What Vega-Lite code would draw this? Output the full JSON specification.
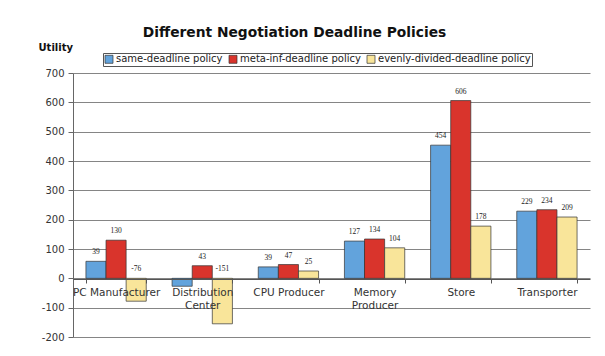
{
  "$schema": "https://vega.github.io/schema/vega-lite/v6.json",
  "autosize": "none",
  "width": 517,
  "height": 264,
  "padding": {"left": 73, "top": 73, "right": 15, "bottom": 19},
  "background": "white",
  "config": {"view": {"stroke": null}, "font": "DejaVu Sans"},
  "title": {"text": "Different Negotiation Deadline Policies", "fontSize": 13.8, "font": "DejaVu Sans", "fontWeight": "bold", "color": "#111", "anchor": "middle", "dx": -37, "dy": 7, "offset": 9},
  "data": {"values": [
    {"category": "PC Manufacturer", "policy": "same-deadline policy", "value": 58, "label": "39"},
    {"category": "PC Manufacturer", "policy": "meta-inf-deadline policy", "value": 130, "label": "130"},
    {"category": "PC Manufacturer", "policy": "evenly-divided-deadline policy", "value": -78, "label": "-76"},
    {"category": "Distribution Center", "policy": "same-deadline policy", "value": -27, "label": ""},
    {"category": "Distribution Center", "policy": "meta-inf-deadline policy", "value": 43, "label": "43"},
    {"category": "Distribution Center", "policy": "evenly-divided-deadline policy", "value": -155, "label": "-151"},
    {"category": "CPU Producer", "policy": "same-deadline policy", "value": 39, "label": "39"},
    {"category": "CPU Producer", "policy": "meta-inf-deadline policy", "value": 47, "label": "47"},
    {"category": "CPU Producer", "policy": "evenly-divided-deadline policy", "value": 25, "label": "25"},
    {"category": "Memory Producer", "policy": "same-deadline policy", "value": 127, "label": "127"},
    {"category": "Memory Producer", "policy": "meta-inf-deadline policy", "value": 134, "label": "134"},
    {"category": "Memory Producer", "policy": "evenly-divided-deadline policy", "value": 104, "label": "104"},
    {"category": "Store", "policy": "same-deadline policy", "value": 454, "label": "454"},
    {"category": "Store", "policy": "meta-inf-deadline policy", "value": 606, "label": "606"},
    {"category": "Store", "policy": "evenly-divided-deadline policy", "value": 178, "label": "178"},
    {"category": "Transporter", "policy": "same-deadline policy", "value": 229, "label": "229"},
    {"category": "Transporter", "policy": "meta-inf-deadline policy", "value": 234, "label": "234"},
    {"category": "Transporter", "policy": "evenly-divided-deadline policy", "value": 209, "label": "209"}
  ]},
  "transform": [{"calculate": "max(datum.value, 0)", "as": "labelY"}],
  "encoding": {
    "x": {
      "field": "category", "type": "nominal",
      "sort": ["PC Manufacturer", "Distribution Center", "CPU Producer", "Memory Producer", "Store", "Transporter"],
      "scale": {"paddingInner": 0.3, "paddingOuter": 0.15},
      "axis": {
        "title": null, "labelAngle": 0, "offset": -58, "zindex": 1,
        "domainColor": "#555", "domainWidth": 1, "tickColor": "#555", "tickSize": 4, "tickBand": "extent",
        "labelFont": "DejaVu Sans", "labelFontSize": 10.5, "labelColor": "#333", "labelPadding": 4,
        "labelLimit": 200, "labelLineHeight": 13,
        "labelExpr": "datum.label == 'Distribution Center' ? ['Distribution', 'Center'] : datum.label == 'Memory Producer' ? ['Memory', 'Producer'] : datum.label"
      }
    },
    "xOffset": {"field": "policy", "type": "nominal", "sort": ["same-deadline policy", "meta-inf-deadline policy", "evenly-divided-deadline policy"]}
  },
  "resolve": {"axis": {"y": "independent"}},
  "layer": [
    {
      "mark": {"type": "bar", "stroke": "#333", "strokeWidth": 0.7},
      "encoding": {
        "y": {
          "field": "value", "type": "quantitative",
          "scale": {"domain": [-200, 700], "nice": false},
          "axis": {
            "title": "Utility", "titleAngle": 0, "titleAlign": "left", "titleBaseline": "middle",
            "titleX": -35, "titleY": -26, "titleFont": "DejaVu Sans", "titleFontSize": 10, "titleFontWeight": "bold", "titleColor": "#111",
            "values": [-200, -100, 0, 100, 200, 300, 400, 500, 600, 700], "labelOverlap": false,
            "labelExpr": "'' + datum.value",
            "grid": true, "gridColor": "#666", "gridWidth": 0.8,
            "domainColor": "#666", "tickColor": "#666", "tickSize": 5,
            "labelFont": "DejaVu Sans", "labelFontSize": 10, "labelColor": "#333", "labelPadding": 4
          }
        },
        "color": {
          "field": "policy", "type": "nominal",
          "scale": {"domain": ["same-deadline policy", "meta-inf-deadline policy", "evenly-divided-deadline policy"], "range": ["#62a3dc", "#d9342c", "#f9e59a"]},
          "legend": {
            "title": null, "orient": "none", "direction": "horizontal", "legendX": 30, "legendY": -20,
            "symbolType": "square", "symbolSize": 64, "symbolStrokeColor": "#333", "symbolStrokeWidth": 0.7, "symbolOpacity": 1,
            "labelFont": "DejaVu Sans", "labelFontSize": 10, "labelLimit": 300, "labelColor": "#222", "labelOffset": 2, "columnPadding": 4,
            "strokeColor": "#555", "padding": 1, "fillColor": "white"
          }
        }
      }
    },
    {
      "mark": {"type": "text", "baseline": "bottom", "dy": -5, "font": "Liberation Serif", "fontSize": 7.5, "fill": "#222"},
      "encoding": {
        "y": {"field": "labelY", "type": "quantitative", "axis": null},
        "text": {"field": "label"}
      }
    }
  ]
}
